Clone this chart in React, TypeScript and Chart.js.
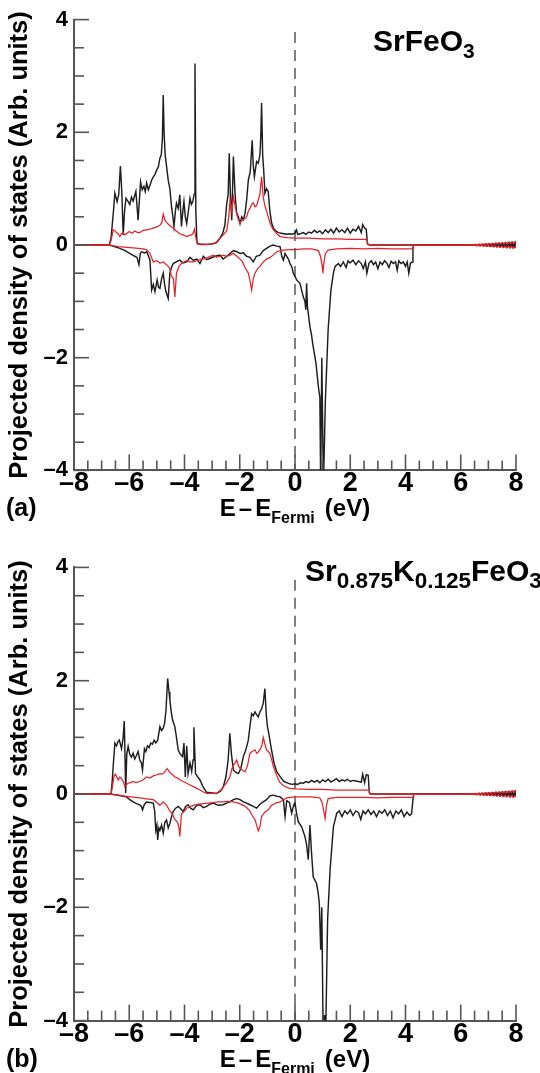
import React, { useEffect, useRef } from "react";
import { Chart, registerables } from "chart.js";

Chart.register(...registerables);

type Pt = [number, number];

// ---------- Panel (a): SrFeO3, [energy (eV), PDOS] ----------
const aUpBlack: Pt[] = [
  [-8, 0], [-6.72, 0], [-6.66, 0.12], [-6.58, 0.55], [-6.52, 0.92], [-6.44, 0.77], [-6.38, 0.9], [-6.32, 1.4],
  [-6.27, 0.95], [-6.22, 0.18], [-6.17, 0.6], [-6.12, 0.83], [-6.05, 0.78], [-5.98, 0.72], [-5.92, 0.85],
  [-5.86, 0.78], [-5.8, 0.88], [-5.76, 0.95], [-5.68, 0.44], [-5.59, 1.12], [-5.53, 0.98], [-5.47, 1.04],
  [-5.42, 0.95], [-5.37, 1.1], [-5.31, 0.98], [-5.25, 1.06], [-5.19, 1.15], [-5.13, 1.21], [-5.07, 1.25],
  [-5.01, 1.33], [-4.95, 1.38], [-4.89, 1.54], [-4.84, 1.6], [-4.8, 1.9], [-4.77, 2.66], [-4.74, 2.0],
  [-4.7, 1.6], [-4.65, 1.4], [-4.59, 1.15], [-4.53, 1.0], [-4.47, 0.68], [-4.42, 0.5], [-4.38, 0.33],
  [-4.33, 0.6], [-4.29, 0.74], [-4.23, 0.65], [-4.17, 0.89], [-4.11, 0.33], [-4.06, 0.6], [-4.02, 0.77],
  [-3.97, 0.5], [-3.92, 0.38], [-3.86, 0.6], [-3.8, 0.83], [-3.75, 0.72], [-3.7, 0.77], [-3.65, 0.9],
  [-3.62, 3.22], [-3.59, 0.6], [-3.55, 0.05], [-3.5, 0.02], [-3.4, 0.01], [-3.2, 0.01], [-3.0, 0.02],
  [-2.85, 0.04], [-2.72, 0.12], [-2.62, 0.2], [-2.54, 0.35], [-2.47, 0.74], [-2.42, 0.9], [-2.38, 1.63],
  [-2.34, 0.9], [-2.29, 0.44], [-2.26, 1.0], [-2.23, 1.57], [-2.17, 0.9], [-2.11, 0.56], [-2.05, 0.5],
  [-1.99, 0.38], [-1.93, 0.5], [-1.87, 0.45], [-1.81, 0.56], [-1.75, 0.8], [-1.69, 1.15], [-1.62, 1.3],
  [-1.55, 1.86], [-1.51, 1.4], [-1.47, 1.21], [-1.43, 1.35], [-1.39, 1.48], [-1.33, 1.45], [-1.27, 1.6],
  [-1.24, 1.9], [-1.21, 2.52], [-1.17, 1.6], [-1.13, 1.3], [-1.09, 0.92], [-1.03, 1.0], [-0.97, 0.95],
  [-0.91, 0.6], [-0.85, 0.4], [-0.78, 0.3], [-0.7, 0.25], [-0.6, 0.22], [-0.5, 0.21], [-0.4, 0.2],
  [-0.3, 0.19], [-0.2, 0.2], [-0.1, 0.19], [0, 0.21], [0.05, 0.27], [0.1, 0.19], [0.2, 0.2], [0.3, 0.22],
  [0.4, 0.19], [0.5, 0.23], [0.6, 0.21], [0.7, 0.26], [0.8, 0.22], [0.9, 0.25], [1.0, 0.2], [1.1, 0.27],
  [1.2, 0.22], [1.3, 0.28], [1.4, 0.21], [1.5, 0.3], [1.6, 0.23], [1.7, 0.27], [1.8, 0.22], [1.9, 0.3],
  [2.0, 0.21], [2.1, 0.28], [2.2, 0.25], [2.3, 0.33], [2.4, 0.22], [2.45, 0.36], [2.52, 0.3], [2.58, 0.28],
  [2.62, 0.02], [2.7, 0], [6.24, 0],
];

const aUpRed: Pt[] = [
  [-8, 0], [-6.72, 0], [-6.66, 0.08], [-6.58, 0.27], [-6.52, 0.25], [-6.46, 0.22], [-6.4, 0.2], [-6.34, 0.15],
  [-6.28, 0.2], [-6.22, 0.22], [-6.16, 0.18], [-6.1, 0.2], [-6.0, 0.24], [-5.9, 0.21], [-5.8, 0.25],
  [-5.7, 0.22], [-5.62, 0.22], [-5.5, 0.26], [-5.37, 0.27], [-5.25, 0.28], [-5.13, 0.3], [-5.0, 0.32],
  [-4.89, 0.35], [-4.82, 0.4], [-4.77, 0.55], [-4.71, 0.45], [-4.65, 0.4], [-4.55, 0.35], [-4.41, 0.3],
  [-4.3, 0.25], [-4.17, 0.2], [-4.05, 0.18], [-3.92, 0.15], [-3.82, 0.17], [-3.74, 0.18], [-3.68, 0.22],
  [-3.64, 0.28], [-3.58, 0.1], [-3.54, 0.02], [-3.2, 0.01], [-2.96, 0.02], [-2.8, 0.06], [-2.72, 0.12],
  [-2.6, 0.18], [-2.47, 0.25], [-2.4, 0.5], [-2.35, 0.8], [-2.29, 0.6], [-2.23, 0.85], [-2.17, 0.7],
  [-2.11, 0.55], [-2.05, 0.45], [-1.99, 0.4], [-1.87, 0.45], [-1.75, 0.5], [-1.69, 0.6], [-1.63, 0.65],
  [-1.57, 0.72], [-1.51, 0.75], [-1.45, 0.68], [-1.39, 0.7], [-1.33, 0.8], [-1.27, 0.9], [-1.21, 1.21],
  [-1.15, 0.85], [-1.09, 0.7], [-1.03, 0.6], [-0.97, 0.5], [-0.91, 0.4], [-0.8, 0.28], [-0.66, 0.2],
  [-0.54, 0.15], [-0.3, 0.13], [0, 0.12], [0.5, 0.12], [1.0, 0.11], [1.5, 0.11], [2.0, 0.1], [2.4, 0.1],
  [2.6, 0.1], [2.64, 0.01], [3.0, 0], [6.2, 0],
];

const aDnBlack: Pt[] = [
  [-8, 0], [-6.72, 0], [-6.6, -0.02], [-6.34, -0.06], [-6.15, -0.1], [-5.98, -0.15], [-5.8, -0.2],
  [-5.72, -0.22], [-5.65, -0.35], [-5.6, -0.15], [-5.56, -0.12], [-5.45, -0.14], [-5.37, -0.12],
  [-5.3, -0.2], [-5.25, -0.27], [-5.19, -0.8], [-5.13, -0.7], [-5.07, -0.83], [-4.99, -0.62],
  [-4.94, -0.75], [-4.89, -0.77], [-4.83, -0.6], [-4.77, -0.5], [-4.72, -0.7], [-4.67, -0.83],
  [-4.59, -0.95], [-4.53, -0.5], [-4.47, -0.4], [-4.41, -0.33], [-4.3, -0.3], [-4.17, -0.27],
  [-4.05, -0.32], [-3.92, -0.3], [-3.8, -0.22], [-3.68, -0.27], [-3.55, -0.25], [-3.44, -0.33],
  [-3.32, -0.2], [-3.2, -0.26], [-3.08, -0.24], [-2.9, -0.2], [-2.72, -0.18], [-2.6, -0.25],
  [-2.47, -0.2], [-2.35, -0.15], [-2.23, -0.1], [-2.1, -0.12], [-1.99, -0.15], [-1.87, -0.14],
  [-1.75, -0.2], [-1.63, -0.22], [-1.51, -0.3], [-1.4, -0.2], [-1.27, -0.18], [-1.15, -0.1],
  [-1.03, -0.06], [-0.9, -0.02], [-0.79, 0], [-0.66, -0.02], [-0.54, -0.03], [-0.48, -0.2],
  [-0.42, -0.27], [-0.36, -0.15], [-0.3, -0.2], [-0.24, -0.25], [-0.18, -0.33], [-0.12, -0.38],
  [-0.06, -0.5], [0.06, -0.62], [0.18, -0.68], [0.3, -0.92], [0.36, -1.0], [0.39, -1.15], [0.42, -0.68],
  [0.45, -1.1], [0.48, -1.21], [0.54, -1.45], [0.6, -1.6], [0.64, -1.75], [0.72, -1.98], [0.76, -2.1],
  [0.81, -2.34], [0.86, -2.57], [0.9, -2.7], [0.93, -4.3], [0.97, -2.0], [1.03, -4.3], [1.1, -2.75],
  [1.2, -1.5], [1.3, -0.8], [1.39, -0.5], [1.45, -0.38], [1.57, -0.33], [1.65, -0.38], [1.75, -0.3],
  [1.85, -0.4], [1.92, -0.28], [1.99, -0.32], [2.1, -0.27], [2.2, -0.35], [2.3, -0.28], [2.4, -0.33],
  [2.47, -0.42], [2.55, -0.3], [2.6, -0.5], [2.68, -0.32], [2.76, -0.28], [2.84, -0.35], [2.92, -0.3],
  [3.0, -0.42], [3.08, -0.3], [3.16, -0.35], [3.24, -0.28], [3.32, -0.32], [3.4, -0.4], [3.48, -0.29],
  [3.56, -0.33], [3.64, -0.3], [3.7, -0.45], [3.76, -0.28], [3.84, -0.33], [3.92, -0.3], [4.0, -0.38],
  [4.06, -0.3], [4.12, -0.5], [4.18, -0.32], [4.24, -0.3], [4.27, -0.05], [4.3, 0], [6.27, 0],
];

const aDnRed: Pt[] = [
  [-8, 0], [-6.72, 0], [-6.4, -0.03], [-5.86, -0.05], [-5.5, -0.07], [-5.37, -0.08], [-5.25, -0.15],
  [-5.13, -0.3], [-5.0, -0.28], [-4.89, -0.32], [-4.77, -0.3], [-4.65, -0.35], [-4.55, -0.4],
  [-4.47, -0.55], [-4.4, -0.6], [-4.35, -0.92], [-4.29, -0.5], [-4.2, -0.38], [-4.1, -0.32],
  [-3.92, -0.28], [-3.8, -0.3], [-3.68, -0.3], [-3.5, -0.27], [-3.32, -0.25], [-3.15, -0.22],
  [-2.96, -0.18], [-2.84, -0.22], [-2.72, -0.2], [-2.6, -0.18], [-2.47, -0.2], [-2.35, -0.18],
  [-2.23, -0.15], [-2.1, -0.2], [-1.99, -0.25], [-1.9, -0.3], [-1.81, -0.4], [-1.75, -0.45],
  [-1.69, -0.5], [-1.62, -0.65], [-1.57, -0.8], [-1.51, -0.6], [-1.45, -0.5], [-1.35, -0.42],
  [-1.27, -0.38], [-1.15, -0.3], [-1.03, -0.25], [-0.9, -0.22], [-0.79, -0.18], [-0.66, -0.12],
  [-0.54, -0.1], [-0.42, -0.09], [-0.2, -0.08], [0, -0.08], [0.3, -0.07], [0.6, -0.07], [0.85, -0.1],
  [0.92, -0.2], [0.98, -0.35], [1.01, -0.5], [1.05, -0.3], [1.1, -0.15], [1.2, -0.09], [1.5, -0.07],
  [2.0, -0.06], [2.5, -0.07], [3.0, -0.06], [3.5, -0.07], [4.0, -0.07], [4.26, -0.07], [4.3, 0],
  [6.23, 0],
];

// ---------- Panel (b): Sr0.875K0.125FeO3 ----------
const bUpBlack: Pt[] = [
  [-8, 0], [-6.66, 0], [-6.62, 0.2], [-6.58, 0.5], [-6.52, 0.9], [-6.46, 0.85], [-6.41, 0.92], [-6.36, 0.95],
  [-6.28, 0.8], [-6.22, 1.0], [-6.18, 1.29], [-6.15, 0.6], [-6.13, 0.02], [-6.09, 0.7], [-6.04, 0.84],
  [-5.98, 0.7], [-5.92, 0.65], [-5.86, 0.72], [-5.8, 0.62], [-5.74, 0.68], [-5.68, 0.75], [-5.62, 0.6],
  [-5.56, 0.55], [-5.52, 0.42], [-5.45, 0.8], [-5.4, 0.75], [-5.34, 0.85], [-5.28, 0.82], [-5.22, 0.9],
  [-5.16, 0.88], [-5.1, 0.95], [-5.04, 0.9], [-4.97, 0.95], [-4.89, 1.19], [-4.83, 1.12], [-4.77, 1.16],
  [-4.72, 1.25], [-4.67, 1.48], [-4.61, 2.04], [-4.56, 1.8], [-4.53, 1.66], [-4.48, 1.45], [-4.43, 1.3],
  [-4.35, 1.19], [-4.29, 1.0], [-4.23, 0.78], [-4.15, 0.7], [-4.07, 0.66], [-4.02, 0.9], [-3.97, 0.3],
  [-3.92, 0.85], [-3.87, 0.36], [-3.8, 0.55], [-3.74, 0.4], [-3.69, 0.6], [-3.66, 1.18], [-3.6, 0.36],
  [-3.52, 0.3], [-3.44, 0.25], [-3.32, 0.12], [-3.2, 0.03], [-2.84, 0.01], [-2.7, 0.05], [-2.6, 0.12],
  [-2.5, 0.3], [-2.42, 0.6], [-2.36, 1.07], [-2.3, 0.7], [-2.23, 0.42], [-2.14, 0.38], [-2.05, 0.36],
  [-1.96, 0.45], [-1.87, 0.66], [-1.78, 0.78], [-1.69, 0.95], [-1.63, 1.2], [-1.57, 1.42], [-1.51, 1.38],
  [-1.45, 1.45], [-1.39, 1.4], [-1.33, 1.36], [-1.27, 1.45], [-1.21, 1.5], [-1.15, 1.6], [-1.09, 1.86],
  [-1.04, 1.4], [-1.0, 1.2], [-0.95, 1.07], [-0.85, 0.78], [-0.76, 0.55], [-0.66, 0.39], [-0.6, 0.35],
  [-0.5, 0.28], [-0.4, 0.22], [-0.3, 0.2], [-0.2, 0.18], [-0.1, 0.17], [0, 0.18], [0.1, 0.17], [0.2, 0.2],
  [0.3, 0.19], [0.4, 0.22], [0.5, 0.2], [0.6, 0.24], [0.7, 0.21], [0.8, 0.24], [0.9, 0.2], [1.0, 0.25],
  [1.1, 0.22], [1.2, 0.26], [1.3, 0.21], [1.4, 0.24], [1.5, 0.27], [1.6, 0.22], [1.7, 0.25], [1.8, 0.23],
  [1.9, 0.26], [2.0, 0.22], [2.1, 0.24], [2.2, 0.23], [2.3, 0.22], [2.4, 0.21], [2.45, 0.35], [2.52, 0.2],
  [2.58, 0.34], [2.65, 0.33], [2.69, 0.02], [2.75, 0], [6.24, 0],
];

const bUpRed: Pt[] = [
  [-8, 0], [-6.66, 0], [-6.6, 0.15], [-6.55, 0.32], [-6.5, 0.35], [-6.4, 0.25], [-6.34, 0.3], [-6.28, 0.27],
  [-6.2, 0.2], [-6.16, 0.13], [-6.1, 0.17], [-6.04, 0.19], [-5.95, 0.2], [-5.86, 0.22], [-5.75, 0.2],
  [-5.62, 0.22], [-5.5, 0.25], [-5.37, 0.3], [-5.25, 0.28], [-5.13, 0.32], [-5.0, 0.34], [-4.89, 0.36],
  [-4.8, 0.35], [-4.71, 0.39], [-4.63, 0.45], [-4.53, 0.38], [-4.45, 0.35], [-4.35, 0.3], [-4.25, 0.28],
  [-4.17, 0.25], [-4.05, 0.22], [-3.92, 0.19], [-3.8, 0.16], [-3.68, 0.13], [-3.55, 0.1], [-3.44, 0.07],
  [-3.3, 0.03], [-3.2, 0.01], [-2.84, 0.01], [-2.7, 0.06], [-2.59, 0.13], [-2.47, 0.2], [-2.36, 0.3],
  [-2.28, 0.45], [-2.23, 0.51], [-2.17, 0.55], [-2.11, 0.6], [-2.05, 0.5], [-1.99, 0.45], [-1.9, 0.42],
  [-1.81, 0.39], [-1.72, 0.5], [-1.63, 0.72], [-1.55, 0.75], [-1.45, 0.78], [-1.39, 0.72], [-1.33, 0.74],
  [-1.25, 0.8], [-1.2, 0.85], [-1.15, 1.0], [-1.1, 0.9], [-1.03, 0.78], [-0.97, 0.75], [-0.91, 0.72],
  [-0.84, 0.6], [-0.78, 0.48], [-0.7, 0.38], [-0.6, 0.25], [-0.54, 0.2], [-0.4, 0.14], [-0.2, 0.1],
  [0, 0.09], [0.5, 0.08], [1.0, 0.08], [1.5, 0.07], [2.0, 0.07], [2.5, 0.07], [2.68, 0.07], [2.72, 0],
  [6.2, 0],
];

const bDnBlack: Pt[] = [
  [-8, 0], [-6.66, 0], [-6.58, -0.01], [-6.3, -0.03], [-6.1, -0.05], [-5.98, -0.1], [-5.86, -0.14],
  [-5.74, -0.17], [-5.62, -0.19], [-5.56, -0.22], [-5.52, -0.28], [-5.45, -0.18], [-5.37, -0.14],
  [-5.25, -0.15], [-5.13, -0.16], [-5.08, -0.3], [-5.04, -0.64], [-5.0, -0.55], [-4.97, -0.81],
  [-4.93, -0.6], [-4.89, -0.64], [-4.83, -0.55], [-4.77, -0.69], [-4.71, -0.5], [-4.65, -0.46],
  [-4.59, -0.6], [-4.53, -0.52], [-4.47, -0.4], [-4.41, -0.31], [-4.32, -0.25], [-4.23, -0.22],
  [-4.14, -0.26], [-4.05, -0.31], [-3.96, -0.22], [-3.87, -0.19], [-3.78, -0.25], [-3.68, -0.28],
  [-3.56, -0.2], [-3.44, -0.19], [-3.32, -0.24], [-3.2, -0.22], [-3.08, -0.18], [-2.96, -0.16],
  [-2.78, -0.2], [-2.6, -0.19], [-2.48, -0.16], [-2.36, -0.14], [-2.23, -0.1], [-2.11, -0.08],
  [-1.99, -0.1], [-1.87, -0.14], [-1.75, -0.16], [-1.63, -0.19], [-1.51, -0.22], [-1.39, -0.25],
  [-1.27, -0.18], [-1.15, -0.14], [-1.03, -0.1], [-0.9, -0.03], [-0.78, -0.02], [-0.66, -0.04],
  [-0.54, -0.05], [-0.42, -0.1], [-0.36, -0.4], [-0.3, -0.12], [-0.2, -0.15], [-0.12, -0.34],
  [-0.05, -0.2], [0, -0.16], [0.06, -0.35], [0.12, -0.49], [0.24, -0.58], [0.36, -0.75], [0.42, -0.9],
  [0.48, -1.16], [0.54, -0.55], [0.6, -1.05], [0.66, -1.46], [0.78, -1.58], [0.84, -1.75], [0.88, -1.93],
  [0.93, -2.75], [0.97, -2.0], [1.02, -4.3], [1.07, -3.9], [1.11, -4.3], [1.18, -2.22], [1.27, -1.34],
  [1.39, -0.58], [1.51, -0.34], [1.6, -0.3], [1.7, -0.4], [1.8, -0.3], [1.9, -0.35], [2.0, -0.28],
  [2.1, -0.38], [2.2, -0.3], [2.3, -0.33], [2.38, -0.45], [2.46, -0.3], [2.55, -0.35], [2.65, -0.28],
  [2.75, -0.36], [2.85, -0.3], [2.95, -0.4], [3.05, -0.3], [3.15, -0.34], [3.25, -0.28], [3.35, -0.38],
  [3.45, -0.3], [3.55, -0.42], [3.65, -0.3], [3.75, -0.35], [3.85, -0.28], [3.95, -0.4], [4.05, -0.32],
  [4.15, -0.38], [4.22, -0.35], [4.27, -0.1], [4.3, 0], [6.27, 0],
];

const bDnRed: Pt[] = [
  [-8, 0], [-6.66, 0], [-6.4, -0.02], [-6.1, -0.04], [-5.62, -0.07], [-5.3, -0.09], [-5.13, -0.1],
  [-5.0, -0.15], [-4.89, -0.2], [-4.77, -0.14], [-4.65, -0.2], [-4.53, -0.3], [-4.44, -0.35],
  [-4.35, -0.45], [-4.25, -0.5], [-4.2, -0.6], [-4.17, -0.75], [-4.11, -0.35], [-4.0, -0.3],
  [-3.92, -0.25], [-3.8, -0.22], [-3.68, -0.2], [-3.5, -0.18], [-3.32, -0.17], [-3.15, -0.16],
  [-2.96, -0.15], [-2.78, -0.14], [-2.6, -0.14], [-2.4, -0.13], [-2.23, -0.14], [-2.05, -0.16],
  [-1.87, -0.2], [-1.75, -0.24], [-1.63, -0.3], [-1.55, -0.38], [-1.45, -0.45], [-1.39, -0.55],
  [-1.33, -0.65], [-1.27, -0.58], [-1.21, -0.4], [-1.1, -0.32], [-0.97, -0.28], [-0.85, -0.2],
  [-0.7, -0.16], [-0.54, -0.14], [-0.42, -0.1], [-0.3, -0.07], [0, -0.05], [0.3, -0.05], [0.6, -0.05],
  [0.9, -0.07], [0.98, -0.15], [1.04, -0.3], [1.09, -0.43], [1.14, -0.2], [1.2, -0.08], [1.5, -0.06],
  [2.0, -0.06], [2.5, -0.06], [3.0, -0.07], [3.5, -0.06], [4.0, -0.06], [4.27, -0.06], [4.3, 0],
  [6.23, 0],
];

// ---------- high-energy tails (same look in both panels) ----------
const tailUpBlack: Pt[] = [
  [6.3, 0.003], [6.36, -0.004], [6.42, 0.006], [6.48, -0.003], [6.54, 0.008], [6.6, -0.006], [6.66, 0.01],
  [6.72, -0.008], [6.78, 0.012], [6.84, -0.01], [6.9, 0.016], [6.96, -0.012], [7.02, 0.018], [7.08, -0.015],
  [7.14, 0.022], [7.2, -0.017], [7.26, 0.025], [7.32, -0.02], [7.38, 0.028], [7.44, -0.024], [7.5, 0.03],
  [7.56, -0.026], [7.62, 0.034], [7.68, -0.03], [7.74, 0.037], [7.8, -0.033], [7.86, 0.04], [7.92, -0.036],
  [7.98, 0.044], [8.0, 0.02],
];
const tailDnBlack: Pt[] = [
  [6.33, -0.003], [6.39, 0.004], [6.45, -0.005], [6.51, 0.004], [6.57, -0.008], [6.63, 0.007], [6.69, -0.011],
  [6.75, 0.009], [6.81, -0.013], [6.87, 0.011], [6.93, -0.017], [6.99, 0.013], [7.05, -0.02], [7.11, 0.016],
  [7.17, -0.023], [7.23, 0.019], [7.29, -0.026], [7.35, 0.022], [7.41, -0.03], [7.47, 0.025], [7.53, -0.032],
  [7.59, 0.028], [7.65, -0.036], [7.71, 0.031], [7.77, -0.039], [7.83, 0.034], [7.89, -0.042], [7.95, 0.037],
  [8.0, -0.045],
];
const tailUpRed: Pt[] = [
  [6.26, 0.002], [6.32, 0.006], [6.38, -0.002], [6.44, 0.009], [6.5, 0.0], [6.56, 0.012], [6.62, 0.002],
  [6.68, 0.016], [6.74, 0.004], [6.8, 0.02], [6.86, 0.006], [6.92, 0.024], [6.98, 0.008], [7.04, 0.028],
  [7.1, 0.01], [7.16, 0.032], [7.22, 0.013], [7.28, 0.036], [7.34, 0.015], [7.4, 0.04], [7.46, 0.018],
  [7.52, 0.044], [7.58, 0.02], [7.64, 0.048], [7.7, 0.022], [7.76, 0.05], [7.82, 0.025], [7.88, 0.054],
  [7.94, 0.027], [8.0, 0.056],
];
const tailDnRed: Pt[] = [
  [6.29, -0.002], [6.35, -0.007], [6.41, 0.001], [6.47, -0.01], [6.53, -0.001], [6.59, -0.014], [6.65, -0.003],
  [6.71, -0.018], [6.77, -0.005], [6.83, -0.022], [6.89, -0.007], [6.95, -0.026], [7.01, -0.009], [7.07, -0.03],
  [7.13, -0.011], [7.19, -0.034], [7.25, -0.014], [7.31, -0.038], [7.37, -0.016], [7.43, -0.042], [7.49, -0.019],
  [7.55, -0.046], [7.61, -0.021], [7.67, -0.05], [7.73, -0.023], [7.79, -0.053], [7.85, -0.026], [7.91, -0.056],
  [7.97, -0.028], [8.0, -0.058],
];

// ---------- axes ----------
const xTickValues = [-8, -6, -4, -2, 0, 2, 4, 6, 8];
const yTickValues = [-4, -2, 0, 2, 4];
const fermiLine: Pt[] = [[0, 3.78], [0, -4]];

const FONT = '"Liberation Sans", Arial, Helvetica, sans-serif';
const AXIS = "#555555";
const BLACK = "#1e1e1e";
const RED = "#e3232c";

type Part = { t?: string; sub?: boolean; gap?: number };

interface PanelSpec {
  top: number;
  height: number;
  chartTop: number;
  chartBottom: number;
  label: string;
  title: Part[];
  titleX: number;
  titleBaseline: number;
  titleSub: number;
  upBlack: Pt[];
  upRed: Pt[];
  dnBlack: Pt[];
  dnRed: Pt[];
}

const panelA: PanelSpec = {
  top: 0, height: 536, chartTop: 19.6, chartBottom: 470.4, label: "(a)",
  title: [{ t: "SrFeO" }, { t: "3", sub: true }], titleX: 373, titleBaseline: 51, titleSub: 21,
  upBlack: aUpBlack, upRed: aUpRed, dnBlack: aDnBlack, dnRed: aDnRed,
};

const panelB: PanelSpec = {
  top: 536, height: 537, chartTop: 31.4, chartBottom: 484.6, label: "(b)",
  title: [
    { t: "Sr" }, { t: "0.875", sub: true }, { t: "K" }, { t: "0.125", sub: true },
    { t: "FeO" }, { t: "3", sub: true },
  ],
  titleX: 305, titleBaseline: 45, titleSub: 22.5,
  upBlack: bUpBlack, upRed: bUpRed, dnBlack: bDnBlack, dnRed: bDnRed,
};

function fmt(v: number): string {
  return v < 0 ? "\u2013" + Math.abs(v) : String(v);
}

function drawRich(
  ctx: CanvasRenderingContext2D, parts: Part[], x: number, baseline: number,
  size: number, subSize: number, subDrop: number, align: "left" | "center"
) {
  const mainFont = `bold ${size}px ${FONT}`;
  const subFont = `bold ${subSize}px ${FONT}`;
  let total = 0;
  const widths = parts.map((p) => {
    if (p.gap) return p.gap;
    ctx.font = p.sub ? subFont : mainFont;
    return ctx.measureText(p.t || "").width;
  });
  widths.forEach((w) => (total += w));
  let cx = align === "center" ? x - total / 2 : x;
  ctx.textAlign = "left";
  ctx.textBaseline = "alphabetic";
  parts.forEach((p, i) => {
    if (p.t) {
      ctx.font = p.sub ? subFont : mainFont;
      ctx.fillText(p.t, cx, p.sub ? baseline + subDrop : baseline);
    }
    cx += widths[i];
  });
}

function line(pts: Pt[], color: string, width: number, dash?: number[]) {
  return {
    data: pts.map(([x, y]) => ({ x, y })),
    borderColor: color,
    borderWidth: width,
    borderDash: dash || [],
    pointRadius: 0,
    fill: false,
    tension: 0,
  };
}

function Panel({ spec }: { spec: PanelSpec }) {
  const ref = useRef<HTMLCanvasElement | null>(null);
  useEffect(() => {
    if (!ref.current) return;
    const decor = {
      id: "decor",
      afterDraw(chart: any) {
        const { ctx, chartArea } = chart;
        const xs = chart.scales.x;
        const ys = chart.scales.y;
        ctx.save();
        ctx.strokeStyle = AXIS;
        ctx.lineWidth = 1.6;
        for (let i = 0; i <= 32; i++) {
          const px = xs.getPixelForValue(-8 + i * 0.5);
          const len = i % 4 === 0 ? 16 : 10;
          ctx.beginPath();
          ctx.moveTo(px, chartArea.bottom);
          ctx.lineTo(px, chartArea.bottom - len);
          ctx.stroke();
        }
        for (let i = 0; i <= 16; i++) {
          const py = ys.getPixelForValue(-4 + i * 0.5);
          const len = i % 4 === 0 ? 15 : 10;
          ctx.beginPath();
          ctx.moveTo(chartArea.left, py);
          ctx.lineTo(chartArea.left + len, py);
          ctx.stroke();
        }
        ctx.fillStyle = "#000";
        ctx.save();
        ctx.translate(20, (chartArea.top + chartArea.bottom) / 2);
        ctx.rotate(-Math.PI / 2);
        ctx.font = `bold 25.5px ${FONT}`;
        ctx.textAlign = "center";
        ctx.textBaseline = "middle";
        ctx.fillText("Projected density of states (Arb. units)", 0, 0);
        ctx.restore();
        const xb = chartArea.bottom + 46;
        drawRich(
          ctx,
          [{ t: "E" }, { gap: 3 }, { t: "\u2013" }, { gap: 3 }, { t: "E" }, { t: "Fermi", sub: true },
            { gap: 10 }, { t: "(eV)" }],
          (chartArea.left + chartArea.right) / 2, xb, 24, 16, 7, "center"
        );
        ctx.font = `bold 25px ${FONT}`;
        ctx.textAlign = "left";
        ctx.textBaseline = "alphabetic";
        ctx.fillText(spec.label, 6, xb);
        drawRich(ctx, spec.title, spec.titleX, spec.titleBaseline, 30, spec.titleSub, 7, "left");
        ctx.restore();
      },
    };

    const tickFontX = { family: FONT, size: 27, weight: "bold" as const, lineHeight: 1 };
    const tickFontY = { family: FONT, size: 22, weight: "bold" as const, lineHeight: 1 };

    const chart = new Chart(ref.current, {
      type: "line",
      data: {
        datasets: [
          line(spec.upRed.concat(tailUpRed), RED, 1.25),
          line(spec.dnRed.concat(tailDnRed), RED, 1.25),
          line(spec.upBlack.concat(tailUpBlack), BLACK, 1.45),
          line(spec.dnBlack.concat(tailDnBlack), BLACK, 1.45),
          line(fermiLine, "#808080", 2, [11, 7]),
        ] as any,
      },
      options: {
        animation: false,
        responsive: false,
        maintainAspectRatio: false,
        events: [],
        layout: { padding: { top: spec.chartTop, right: 24, left: 0, bottom: 0 } },
        plugins: {
          legend: { display: false },
          tooltip: { enabled: false },
          title: { display: false },
        },
        scales: {
          x: {
            type: "linear",
            min: -8,
            max: 8,
            position: "bottom",
            grid: { display: false, drawTicks: false },
            border: { display: true, color: AXIS, width: 2 },
            ticks: {
              stepSize: 2,
              autoSkip: false,
              maxRotation: 0,
              padding: 0,
              color: "#000",
              font: tickFontX,
              callback: (v: any) => fmt(Number(v)),
            },
            afterBuildTicks: (scale: any) => {
              scale.ticks = xTickValues.map((value) => ({ value }));
            },
            afterFit: (scale: any) => {
              scale.height = spec.height - spec.chartBottom;
            },
          },
          y: {
            type: "linear",
            min: -4,
            max: 4,
            position: "left",
            grid: { display: false, drawTicks: false },
            border: { display: true, color: AXIS, width: 2 },
            ticks: {
              stepSize: 2,
              autoSkip: false,
              padding: 6,
              color: "#000",
              font: tickFontY,
              callback: (v: any) => fmt(Number(v)),
            },
            afterBuildTicks: (scale: any) => {
              scale.ticks = yTickValues.map((value) => ({ value }));
            },
            afterFit: (scale: any) => {
              scale.width = 74;
            },
          },
        },
      } as any,
      plugins: [decor],
    });
    return () => chart.destroy();
  }, [spec]);

  return (
    <canvas
      ref={ref}
      width={540}
      height={spec.height}
      style={{ position: "absolute", left: 0, top: spec.top, display: "block" }}
    />
  );
}

export default function App() {
  return (
    <div style={{ position: "absolute", left: 0, top: 0, width: 540, height: 1073, background: "#fff", overflow: "hidden" }}>
      <Panel spec={panelA} />
      <Panel spec={panelB} />
    </div>
  );
}
